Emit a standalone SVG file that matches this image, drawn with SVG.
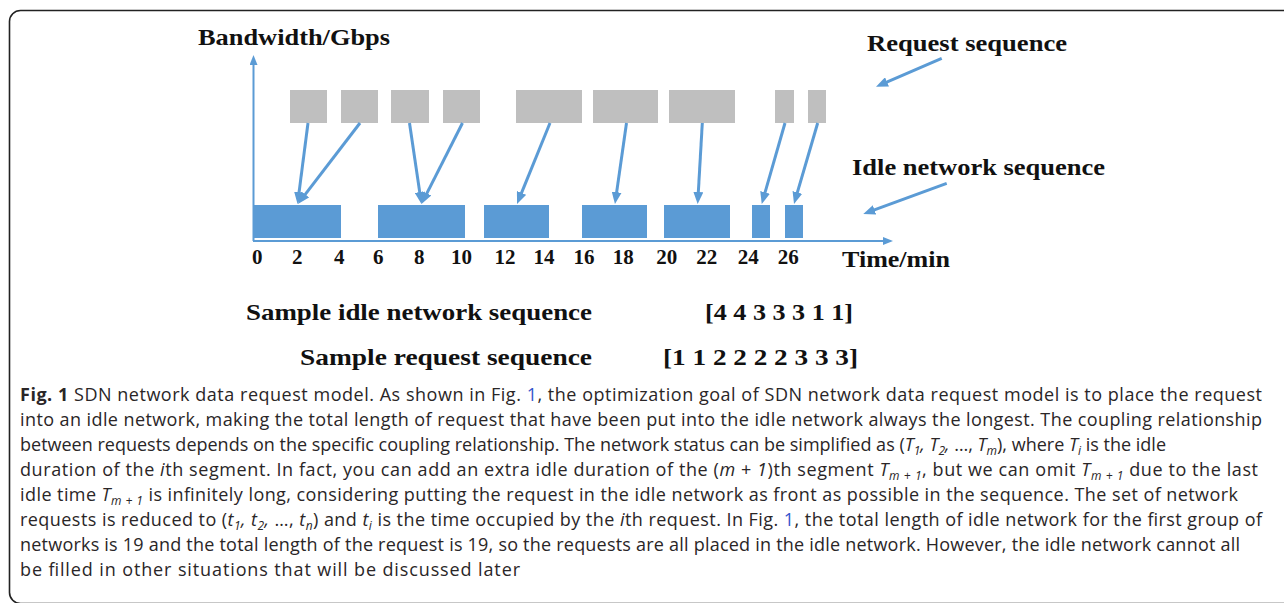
<svg xmlns="http://www.w3.org/2000/svg" width="1284" height="603" viewBox="0 0 1284 603">
<defs>
<style>
.lbl{font-family:"Liberation Serif","Times New Roman",serif;font-weight:bold;fill:#111;}
.title{font-size:24px;}
.tick{font-size:21px;text-anchor:middle;}
.cap{font-family:"Open Sans","Noto Sans",sans-serif;font-size:18px;fill:#2a2627;}
.req{fill:#bfbfbf;}
.idle{fill:#5b9bd5;}
.conn{stroke:#5b9bd5;stroke-width:3;fill:none;marker-end:url(#ah);}
.axis{stroke:#5b9bd5;stroke-width:2;fill:none;marker-end:url(#axh);}
.lnk{fill:#3355cc;}
.it{font-style:italic;}
.sub{font-size:12px;font-style:italic;baseline-shift:-4px;}
</style>
<marker id="ah" viewBox="0 0 12 10" refX="6" refY="5" markerWidth="12" markerHeight="10" markerUnits="userSpaceOnUse" orient="auto"><path d="M0,0 L12,5 L0,10 Z" fill="#5b9bd5"/></marker>
<marker id="axh" viewBox="0 0 10 8" refX="5" refY="4" markerWidth="10" markerHeight="8" markerUnits="userSpaceOnUse" orient="auto"><path d="M0,0 L10,4 L0,8 Z" fill="#5b9bd5"/></marker>
</defs>
<rect x="9.5" y="10.5" width="1300" height="593" rx="11" fill="none" stroke="#222" stroke-width="1.6"/>

<g id="axes">
<line class="axis" x1="253.5" y1="241" x2="253.5" y2="60"/>
<line class="axis" x1="253" y1="241" x2="888" y2="241"/>
</g>

<g id="requests">
<g id="r1"><rect class="req" x="290" y="90" width="37" height="33"/></g>
<g id="r2"><rect class="req" x="341" y="90" width="37" height="33"/></g>
<g id="r3"><rect class="req" x="391" y="90" width="38" height="33"/></g>
<g id="r4"><rect class="req" x="443" y="90" width="37" height="33"/></g>
<g id="r5"><rect class="req" x="516" y="90" width="66" height="33"/></g>
<g id="r6"><rect class="req" x="593" y="90" width="65" height="33"/></g>
<g id="r7"><rect class="req" x="669" y="90" width="66" height="33"/></g>
<g id="r8"><rect class="req" x="775" y="90" width="19" height="33"/></g>
<g id="r9"><rect class="req" x="808" y="90" width="18" height="33"/></g>
</g>

<g id="idles">
<g id="i1"><rect class="idle" x="253" y="205" width="88" height="33"/></g>
<g id="i2"><rect class="idle" x="378" y="205" width="87" height="33"/></g>
<g id="i3"><rect class="idle" x="484" y="205" width="65" height="33"/></g>
<g id="i4"><rect class="idle" x="582" y="205" width="65" height="33"/></g>
<g id="i5"><rect class="idle" x="664" y="205" width="66" height="33"/></g>
<g id="i6"><rect class="idle" x="752" y="205" width="18" height="33"/></g>
<g id="i7"><rect class="idle" x="785" y="205" width="18" height="33"/></g>
</g>

<g id="connectors">
<line class="conn" x1="308" y1="123" x2="298.3" y2="198.1"/>
<line class="conn" x1="360" y1="123" x2="301.6" y2="199.2"/>
<line class="conn" x1="409.5" y1="123" x2="420.6" y2="198.1"/>
<line class="conn" x1="462.5" y1="123" x2="424.2" y2="198.6"/>
<line class="conn" x1="550" y1="123" x2="519.3" y2="198.4"/>
<line class="conn" x1="626.5" y1="123" x2="615.8" y2="198.1"/>
<line class="conn" x1="702.3" y1="123" x2="698" y2="198"/>
<line class="conn" x1="785" y1="123" x2="763.4" y2="198.2"/>
<line class="conn" x1="817.7" y1="123" x2="795.7" y2="198.2"/>
<line class="conn" x1="941.7" y1="58.3" x2="881.5" y2="84.3"/>
<line class="conn" x1="946.7" y1="183.3" x2="868.9" y2="211.9"/>
</g>

<g id="labels" class="lbl">
<text class="title" x="198" y="45" textLength="192" lengthAdjust="spacingAndGlyphs">Bandwidth/Gbps</text>
<text class="title" x="867" y="51" textLength="200" lengthAdjust="spacingAndGlyphs">Request sequence</text>
<text class="title" x="852" y="175" textLength="253" lengthAdjust="spacingAndGlyphs">Idle network sequence</text>
<text class="title" x="842" y="267" textLength="108" lengthAdjust="spacingAndGlyphs">Time/min</text>
<g class="tick">
<text x="257.3" y="264">0</text>
<text x="297.3" y="264">2</text>
<text x="339.3" y="264">4</text>
<text x="378.3" y="264">6</text>
<text x="419.3" y="264">8</text>
<text x="461.5" y="264">10</text>
<text x="505" y="264">12</text>
<text x="544" y="264">14</text>
<text x="584" y="264">16</text>
<text x="623.3" y="264">18</text>
<text x="666.7" y="264">20</text>
<text x="706.7" y="264">22</text>
<text x="748.3" y="264">24</text>
<text x="788.3" y="264">26</text>
</g>
<text class="title" x="246" y="320" textLength="346" lengthAdjust="spacingAndGlyphs">Sample idle network sequence</text>
<text class="title" x="705" y="320" textLength="148" lengthAdjust="spacingAndGlyphs">[4 4 3 3 3 1 1]</text>
<text class="title" x="300" y="365" textLength="292" lengthAdjust="spacingAndGlyphs">Sample request sequence</text>
<text class="title" x="663" y="365" textLength="195" lengthAdjust="spacingAndGlyphs">[1 1 2 2 2 2 3 3 3]</text>
</g>

<g id="caption" class="cap">
<text x="20" y="401" textLength="1242"><tspan font-weight="bold">Fig. 1</tspan> SDN network data request model. As shown in Fig. <tspan class="lnk">1</tspan>, the optimization goal of SDN network data request model is to place the request</text>
<text x="20" y="426" textLength="1242">into an idle network, making the total length of request that have been put into the idle network always the longest. The coupling relationship</text>
<text x="20" y="451" textLength="1146">between requests depends on the specific coupling relationship. The network status can be simplified as (<tspan class="it">T</tspan><tspan class="sub">1</tspan><tspan class="it">,</tspan> <tspan class="it">T</tspan><tspan class="sub">2</tspan><tspan class="it">,</tspan> …, <tspan class="it">T</tspan><tspan class="sub">m</tspan>), where <tspan class="it">T</tspan><tspan class="sub">i</tspan> is the idle</text>
<text x="20" y="476" textLength="1238">duration of the <tspan class="it">i</tspan>th segment. In fact, you can add an extra idle duration of the (<tspan class="it">m</tspan> + <tspan class="it">1</tspan>)th segment <tspan class="it">T</tspan><tspan class="sub">m + 1</tspan>, but we can omit <tspan class="it">T</tspan><tspan class="sub">m + 1</tspan> due to the last</text>
<text x="20" y="501" textLength="1218">idle time <tspan class="it">T</tspan><tspan class="sub">m + 1</tspan> is infinitely long, considering putting the request in the idle network as front as possible in the sequence. The set of network</text>
<text x="20" y="526" textLength="1242">requests is reduced to (<tspan class="it">t</tspan><tspan class="sub">1</tspan><tspan class="it">,</tspan> <tspan class="it">t</tspan><tspan class="sub">2</tspan><tspan class="it">,</tspan> …, <tspan class="it">t</tspan><tspan class="sub">n</tspan>) and <tspan class="it">t</tspan><tspan class="sub">i</tspan> is the time occupied by the <tspan class="it">i</tspan>th request. In Fig. <tspan class="lnk">1</tspan>, the total length of idle network for the first group of</text>
<text x="20" y="551" textLength="1220">networks is 19 and the total length of the request is 19, so the requests are all placed in the idle network. However, the idle network cannot all</text>
<text x="20" y="576" textLength="500">be filled in other situations that will be discussed later</text>
</g>
</svg>
